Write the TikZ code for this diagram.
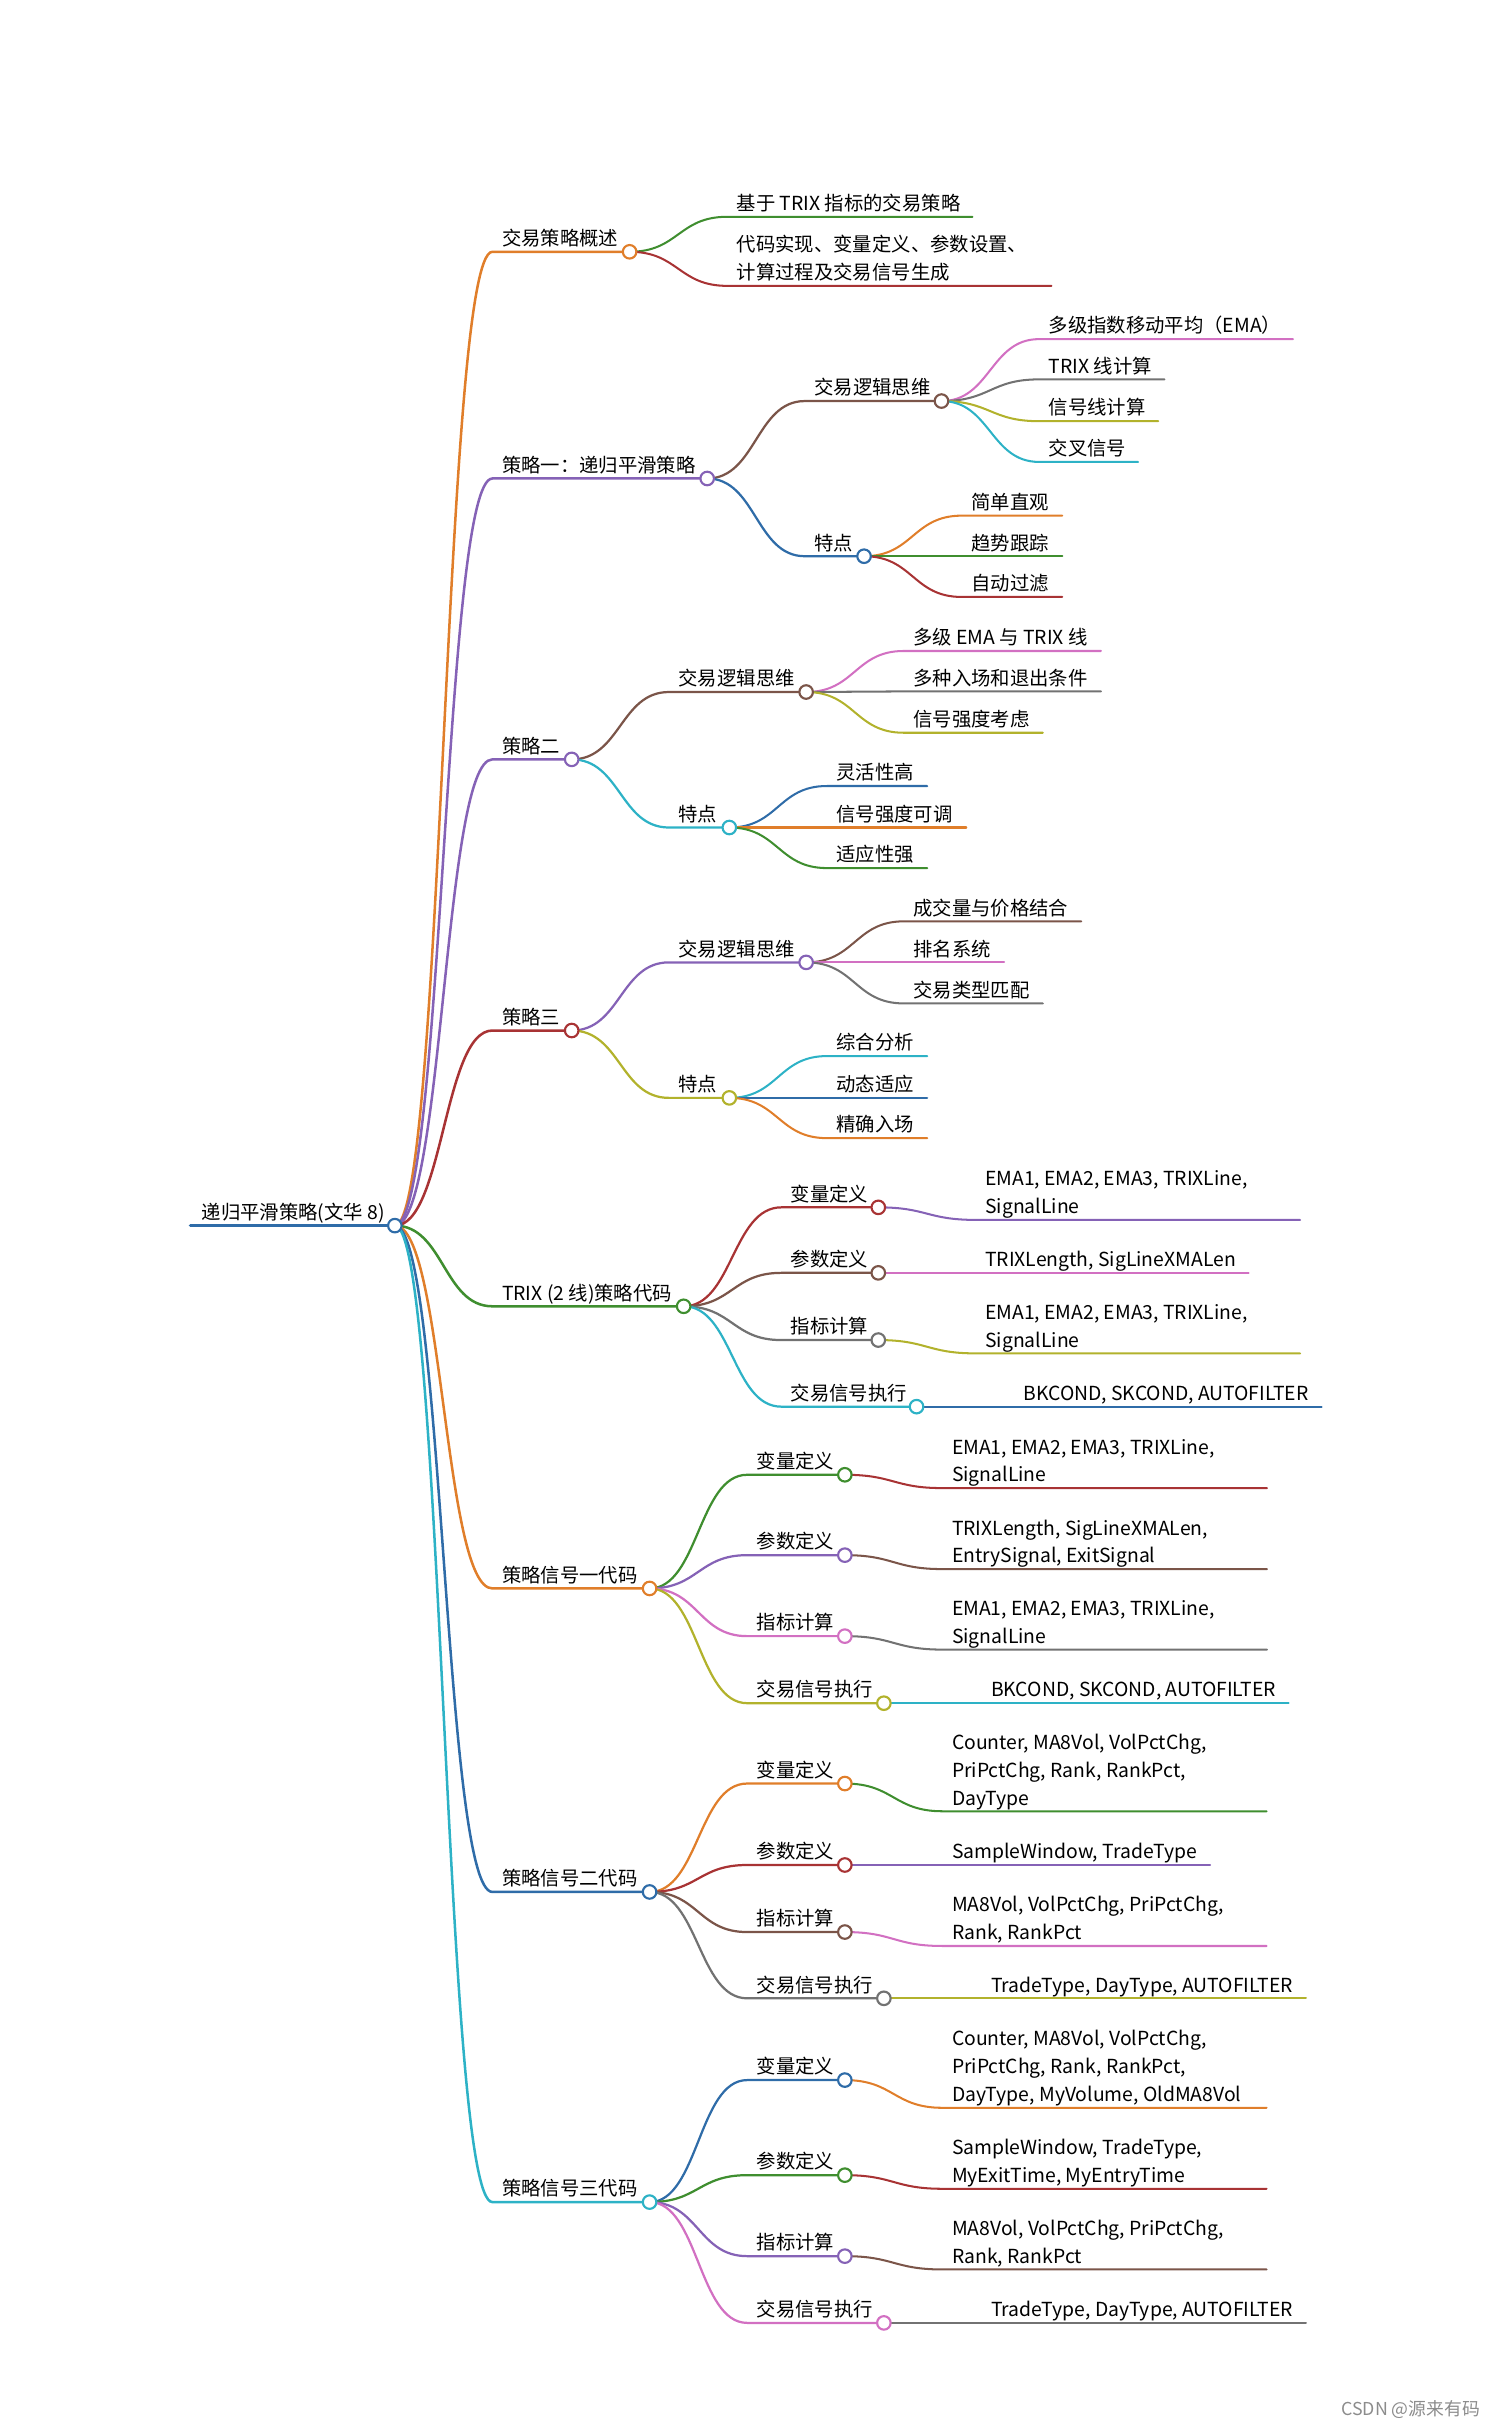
\documentclass[tikz,border=0pt]{standalone}
\usepackage{fontspec}
\setmainfont{Noto Sans CJK SC}
\usetikzlibrary{calc,backgrounds}
\definecolor{mmblue}{HTML}{2F6CA8}
\definecolor{mmorange}{HTML}{E07E2A}
\definecolor{mmgreen}{HTML}{3F8E2F}
\definecolor{mmred}{HTML}{A83334}
\definecolor{mmpurple}{HTML}{8562B6}
\definecolor{mmbrown}{HTML}{7B5549}
\definecolor{mmpink}{HTML}{D270C2}
\definecolor{mmgray}{HTML}{727272}
\definecolor{mmolive}{HTML}{B2B22C}
\definecolor{mmcyan}{HTML}{2DB2C6}

\begin{document}
\begin{tikzpicture}[
    x=0.8pt, y=-0.8pt,
    lbl/.style={font=\fontsize{10}{14.4}\selectfont, inner sep=0pt, anchor=base west, align=left, text=black},
    dot/.style={circle, fill=white, line width=1.1pt, inner sep=0pt, minimum size=7pt},
    lnk/.style={line cap=round, to path={let \p1=(\tikztostart), \p2=(\tikztotarget) in
        .. controls ({0.5*\x1+0.5*\x2},\y1) and ({0.5*\x1+0.5*\x2},\y2) .. (\tikztotarget)}},
    wd1/.style={line width=1.3pt},
    wd2/.style={line width=1.15pt},
    wd3/.style={line width=1.05pt},
    wm/.style={font=\fontsize{9.2}{11}\selectfont, text=black!45, inner sep=0pt, anchor=west},
]
\useasboundingbox (0,0) rectangle (964,1568);

% root
\coordinate (root-s) at (123,791.5);
\begin{pgfonlayer}{background}
\draw[mmblue, line width=1.8pt, line cap=round] (root-s) -- (255,791.5);
\end{pgfonlayer}
\node[dot, draw=mmblue] (root) at (255,791.5) {};
\node[lbl] (root-t) at (130,787.5) {递归平滑策略(文华 8)};

% first level
\foreach \nm/\xe/\yy/\cc/\tx in {
    a/406.6/162.6/mmorange/交易策略概述,
    b/456.7/309/mmpurple/策略一：递归平滑策略,
    c/369.2/490.4/mmpurple/策略二,
    d/369.2/665.5/mmred/策略三,
    e/441.5/843.6/mmgreen/TRIX (2 线)策略代码,
    f/419.5/1025.8/mmorange/策略信号一代码,
    g/419.5/1221.8/mmblue/策略信号二代码,
    h/419.5/1422.1/mmcyan/策略信号三代码} {
  \begin{pgfonlayer}{background}
  \coordinate (\nm-s) at (318,\yy);
  \draw[lnk, wd1, draw=\cc] (root.center) to (\nm-s) -- (\xe,\yy);
  \end{pgfonlayer}
  \node[dot, draw=\cc] (\nm) at (\xe,\yy) {};
  \node[lbl] (\nm-t) at (324,\yy-4) {\tx};
}

% second level
\foreach \nm/\pa/\xs/\xe/\yy/\cc/\tx in {
    b1/b/519.7/608/259/mmbrown/交易逻辑思维,
    b2/b/519.7/558/359.2/mmblue/特点,
    c1/c/432/520.6/446.9/mmbrown/交易逻辑思维,
    c2/c/432/471/534.4/mmcyan/特点,
    d1/d/432/520.6/621.5/mmpurple/交易逻辑思维,
    d2/d/432/471/709/mmolive/特点,
    e1/e/504.5/567.2/779.7/mmred/变量定义,
    e2/e/504.5/567.2/822/mmbrown/参数定义,
    e3/e/504.5/567.2/865.4/mmgray/指标计算,
    e4/e/504.5/591.9/908.4/mmcyan/交易信号执行,
    f1/f/482.5/545.6/952.4/mmgreen/变量定义,
    f2/f/482.5/545.6/1004.3/mmpurple/参数定义,
    f3/f/482.5/545.6/1056.6/mmpink/指标计算,
    f4/f/482.5/570.8/1099.9/mmolive/交易信号执行,
    g1/g/482.5/545.6/1151.8/mmorange/变量定义,
    g2/g/482.5/545.6/1204.4/mmred/参数定义,
    g3/g/482.5/545.6/1247.7/mmbrown/指标计算,
    g4/g/482.5/570.8/1290.5/mmgray/交易信号执行,
    h1/h/482.5/545.6/1343.3/mmblue/变量定义,
    h2/h/482.5/545.6/1404.7/mmgreen/参数定义,
    h3/h/482.5/545.6/1457/mmpurple/指标计算,
    h4/h/482.5/570.8/1500.1/mmpink/交易信号执行} {
  \begin{pgfonlayer}{background}
  \coordinate (\nm-s) at (\xs,\yy);
  \draw[lnk, wd2, draw=\cc] (\pa.center) to (\nm-s) -- (\xe,\yy);
  \end{pgfonlayer}
  \node[dot, draw=\cc] (\nm) at (\xe,\yy) {};
  \node[lbl] (\nm-t) at (\xs+6,\yy-4) {\tx};
}

% leaves
\foreach \nm/\pa/\xs/\xe/\yy/\cc/\tx in {
    a1/a/469.6/628/140/mmgreen/基于 TRIX 指标的交易策略,
    a2/a/469.6/679/184.6/mmred/{代码实现、变量定义、参数设置、\\计算过程及交易信号生成},
    b11/b1/671/835/219/mmpink/多级指数移动平均（EMA）,
    b12/b1/671/752/245/mmgray/TRIX 线计算,
    b13/b1/671/748/272/mmolive/信号线计算,
    b14/b1/671/735/298.3/mmcyan/交叉信号,
    b21/b2/621/686/333/mmorange/简单直观,
    b22/b2/621/686/359.2/mmgreen/趋势跟踪,
    b23/b2/621/686/385.5/mmred/自动过滤,
    c11/c1/583.6/711/420.4/mmpink/多级 EMA 与 TRIX 线,
    c12/c1/583.6/711/446.5/mmgray/多种入场和退出条件,
    c13/c1/583.6/673.5/473.2/mmolive/信号强度考虑,
    c21/c2/534/598.8/507.6/mmblue/灵活性高,
    c22/c2/534/624/534.4/mmorange/信号强度可调,
    c23/c2/534/598.8/560.6/mmgreen/适应性强,
    d11/d1/583.6/698.3/595/mmbrown/成交量与价格结合,
    d12/d1/583.6/648.4/621.5/mmpink/排名系统,
    d13/d1/583.6/673.5/648/mmgray/交易类型匹配,
    d21/d2/534/598.8/682/mmcyan/综合分析,
    d22/d2/534/598.8/709/mmblue/动态适应,
    d23/d2/534/598.8/735/mmorange/精确入场,
    e11/e1/630/839.6/787.8/mmpurple/{EMA1, EMA2, EMA3, TRIXLine,\\SignalLine},
    e21/e2/630/806.4/822/mmpink/{TRIXLength, SigLineXMALen},
    e31/e3/630/839.6/874/mmolive/{EMA1, EMA2, EMA3, TRIXLine,\\SignalLine},
    e41/e4/654.7/853.5/908.4/mmblue/{BKCOND, SKCOND, AUTOFILTER},
    f11/f1/608.6/818.2/961/mmred/{EMA1, EMA2, EMA3, TRIXLine,\\SignalLine},
    f21/f2/608.6/818.2/1013.3/mmbrown/{TRIXLength, SigLineXMALen,\\EntrySignal, ExitSignal},
    f31/f3/608.6/818.2/1065.3/mmgray/{EMA1, EMA2, EMA3, TRIXLine,\\SignalLine},
    f41/f4/633.8/832.2/1099.9/mmcyan/{BKCOND, SKCOND, AUTOFILTER},
    g11/g1/608.6/818/1169.7/mmgreen/{Counter, MA8Vol, VolPctChg,\\PriPctChg, Rank, RankPct,\\DayType},
    g21/g2/608.6/781.5/1204.4/mmpurple/{SampleWindow, TradeType},
    g31/g3/608.6/818/1256.7/mmpink/{MA8Vol, VolPctChg, PriPctChg,\\Rank, RankPct},
    g41/g4/633.8/843.4/1290.5/mmolive/{TradeType, DayType, AUTOFILTER},
    h11/h1/608.6/818/1361.2/mmorange/{Counter, MA8Vol, VolPctChg,\\PriPctChg, Rank, RankPct,\\DayType, MyVolume, OldMA8Vol},
    h21/h2/608.6/818/1413.5/mmred/{SampleWindow, TradeType,\\MyExitTime, MyEntryTime},
    h31/h3/608.6/818/1465.6/mmbrown/{MA8Vol, VolPctChg, PriPctChg,\\Rank, RankPct},
    h41/h4/633.8/843.4/1500.1/mmgray/{TradeType, DayType, AUTOFILTER}} {
  \begin{pgfonlayer}{background}
  \coordinate (\nm-s) at (\xs,\yy);
  \draw[lnk, wd3, draw=\cc] (\pa.center) to (\nm-s) -- (\xe,\yy);
  \end{pgfonlayer}
  \node[lbl] (\nm) at (\xs+6,\yy-4) {\tx};
}

\node[wm] (wmark) at (866,1556) {CSDN @源来有码};
\end{tikzpicture}
\end{document}
